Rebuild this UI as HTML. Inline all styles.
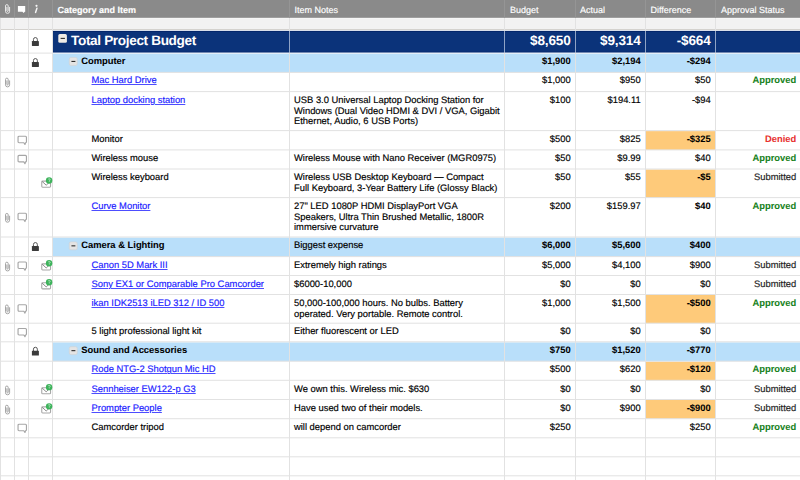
<!DOCTYPE html><html><head><meta charset="utf-8"><style>
*{margin:0;padding:0;box-sizing:border-box}
html,body{width:800px;height:480px;overflow:hidden;background:#fff}
body{position:relative;font-family:"Liberation Sans",sans-serif;font-size:9.4px;color:#000;text-rendering:geometricPrecision;-webkit-text-stroke:0.16px currentColor}
.a{position:absolute;white-space:nowrap;line-height:10.8px}
.r{text-align:right}
.b{font-weight:bold;-webkit-text-stroke-width:0.06px}
.lnk{color:#1c1cff;text-decoration:underline;text-decoration-thickness:0.9px;text-underline-offset:1.2px;text-decoration-color:#4d4dff}
.hd{color:#fff;-webkit-text-stroke:0.15px #fff}
svg{position:absolute;left:0;top:0}

</style></head><body>
<svg width="800" height="480" viewBox="0 0 800 480"><rect x="0" y="0" width="800" height="17.9" fill="#8a8a8a"/><rect x="0" y="17.9" width="800" height="11.3" fill="#f2f2f2"/><rect x="0" y="18.0" width="800" height="1.2" fill="#f6f6f6"/><rect x="52.5" y="31.0" width="747.5" height="21.6" fill="#0b337a"/><rect x="52.5" y="31.0" width="747.5" height="0.9" fill="#03256a"/><rect x="52.5" y="51.6" width="747.5" height="1.0" fill="#062a6e"/><rect x="52.5" y="53.8" width="747.5" height="18.6" fill="#b9dffa"/><rect x="645" y="131.1" width="70" height="18.8" fill="#feca7a"/><rect x="645" y="169.5" width="70" height="28.1" fill="#feca7a"/><rect x="52.5" y="237.6" width="747.5" height="19" fill="#b9dffa"/><rect x="645" y="295" width="70" height="28.2" fill="#feca7a"/><rect x="52.5" y="342.4" width="747.5" height="18.8" fill="#b9dffa"/><rect x="645" y="361.7" width="70" height="18.6" fill="#feca7a"/><rect x="645" y="400" width="70" height="18.7" fill="#feca7a"/><rect x="0" y="29.0" width="800" height="1" fill="#d4d2ce"/><rect x="52.5" y="30.0" width="747.5" height="1" fill="#d9dfea"/><rect x="0" y="52.6" width="52.5" height="1" fill="#e2e2e2"/><rect x="52.5" y="52.6" width="747.5" height="1" fill="#dbe7f3"/><rect x="0" y="71.9" width="800" height="1" fill="#e2e2e2"/><rect x="0" y="91.1" width="800" height="1" fill="#e2e2e2"/><rect x="0" y="130.1" width="800" height="1" fill="#e2e2e2"/><rect x="0" y="149.4" width="800" height="1" fill="#e2e2e2"/><rect x="0" y="168.5" width="800" height="1" fill="#e2e2e2"/><rect x="0" y="197.1" width="800" height="1" fill="#e2e2e2"/><rect x="0" y="236.5" width="800" height="1" fill="#e2e2e2"/><rect x="0" y="256.1" width="800" height="1" fill="#e2e2e2"/><rect x="0" y="275" width="800" height="1" fill="#e2e2e2"/><rect x="0" y="294" width="800" height="1" fill="#e2e2e2"/><rect x="0" y="322.7" width="800" height="1" fill="#e2e2e2"/><rect x="0" y="341.3" width="800" height="1" fill="#e2e2e2"/><rect x="0" y="360.7" width="800" height="1" fill="#e2e2e2"/><rect x="0" y="379.8" width="800" height="1" fill="#e2e2e2"/><rect x="0" y="399" width="800" height="1" fill="#e2e2e2"/><rect x="0" y="418.2" width="800" height="1" fill="#e2e2e2"/><rect x="0" y="437.3" width="800" height="1" fill="#e2e2e2"/><rect x="0" y="456.3" width="800" height="1" fill="#e2e2e2"/><rect x="0" y="475.3" width="800" height="1" fill="#e2e2e2"/><rect x="0" y="494.5" width="800" height="1" fill="#e2e2e2"/><rect x="0" y="17.9" width="1" height="470" fill="#e2e2e2"/><rect x="14" y="17.9" width="1" height="470" fill="#e2e2e2"/><rect x="14" y="0" width="1" height="17.9" fill="#959595"/><rect x="28" y="17.9" width="1" height="470" fill="#e2e2e2"/><rect x="28" y="0" width="1" height="17.9" fill="#959595"/><rect x="52" y="17.9" width="1" height="470" fill="#e2e2e2"/><rect x="52" y="0" width="1" height="17.9" fill="#959595"/><rect x="289" y="17.9" width="1" height="470" fill="#e2e2e2"/><rect x="289" y="0" width="1" height="17.9" fill="#959595"/><rect x="504" y="17.9" width="1" height="470" fill="#e2e2e2"/><rect x="504" y="0" width="1" height="17.9" fill="#959595"/><rect x="575" y="17.9" width="1" height="470" fill="#e2e2e2"/><rect x="575" y="0" width="1" height="17.9" fill="#959595"/><rect x="645" y="17.9" width="1" height="470" fill="#e2e2e2"/><rect x="645" y="0" width="1" height="17.9" fill="#959595"/><rect x="715" y="17.9" width="1" height="470" fill="#e2e2e2"/><rect x="715" y="0" width="1" height="17.9" fill="#959595"/><rect x="289" y="31" width="1" height="21.6" fill="#8fa3c6"/><rect x="504" y="31" width="1" height="21.6" fill="#8fa3c6"/><rect x="575" y="31" width="1" height="21.6" fill="#8fa3c6"/><rect x="645" y="31" width="1" height="21.6" fill="#8fa3c6"/><rect x="715" y="31" width="1" height="21.6" fill="#8fa3c6"/><g transform="translate(5,4)"><path d="M4.6 3.3 V7.3 A2.05 2.05 0 0 1 0.5 7.3 V1.95 A1.35 1.35 0 0 1 3.2 1.95 V6.8 A0.65 0.65 0 0 1 1.9 6.8 V3.3" fill="none" stroke="#ececec" stroke-width="0.95" stroke-linecap="round"/></g><circle cx="36.5" cy="5.8" r="1.1" fill="#f6f6f6"/><path d="M36.95 8.2 L35.55 12.4" stroke="#f6f6f6" stroke-width="1.45" stroke-linecap="round"/><path d="M17.9 5.9 H25.2 V11.7 H24.8 L23.6 13.0 L22.4 11.7 H17.9 Z" fill="#fff"/><rect x="58.3" y="34.1" width="8.6" height="8.6" rx="1.5" fill="#efece6"/><rect x="60.62" y="37.85" width="4.3" height="1.1" fill="#2e2e2e"/><g transform="translate(31.9,41)"><path d="M1.55 0.3 V-1.5 A1.95 1.95 0 0 1 5.45 -1.5 V0.3" fill="none" stroke="#555" stroke-width="1.0"/><rect x="0" y="0" width="7.0" height="4.9" rx="0.4" fill="#3b3b3b"/></g><rect x="69.3" y="57.5" width="7.9" height="7.9" rx="1.5" fill="#e4e4e4" stroke="#d2d2d2" stroke-width="0.6"/><rect x="71.43" y="60.9" width="3.95" height="1.1" fill="#2e2e2e"/><g transform="translate(31.9,62)"><path d="M1.55 0.3 V-1.5 A1.95 1.95 0 0 1 5.45 -1.5 V0.3" fill="none" stroke="#555" stroke-width="1.0"/><rect x="0" y="0" width="7.0" height="4.9" rx="0.4" fill="#3b3b3b"/></g><g transform="translate(5,77.55)"><path d="M4.6 3.3 V7.3 A2.05 2.05 0 0 1 0.5 7.3 V1.95 A1.35 1.35 0 0 1 3.2 1.95 V6.8 A0.65 0.65 0 0 1 1.9 6.8 V3.3" fill="none" stroke="#a0a0a0" stroke-width="0.95" stroke-linecap="round"/></g><g transform="translate(18.05,136.2)"><path d="M1 0 H7.4 A1 1 0 0 1 8.4 1 V5.5 A1 1 0 0 1 7.4 6.5 H7.6 L6.9 8.3 L5.8 6.5 H1 A1 1 0 0 1 0 5.5 V1 A1 1 0 0 1 1 0 Z" fill="#fff" stroke="#a6a6a6" stroke-width="1.15" stroke-linejoin="round"/></g><g transform="translate(18.05,155.4)"><path d="M1 0 H7.4 A1 1 0 0 1 8.4 1 V5.5 A1 1 0 0 1 7.4 6.5 H7.6 L6.9 8.3 L5.8 6.5 H1 A1 1 0 0 1 0 5.5 V1 A1 1 0 0 1 1 0 Z" fill="#fff" stroke="#a6a6a6" stroke-width="1.15" stroke-linejoin="round"/></g><g transform="translate(0,183.3)"><rect x="41.75" y="-2.2" width="8.8" height="6.1" rx="0.9" fill="#fff" stroke="#a8a8a8" stroke-width="1.1"/><path d="M42.1 -1.9 L46.2 1.9 L50.2 -1.9" fill="none" stroke="#8c8c8c" stroke-width="1.0"/><circle cx="49.1" cy="-2.75" r="3.2" fill="#3db35b"/><path d="M48.2 -4.1 Q49.2 -5.0 50.1 -4.1 Q50.4 -3.2 49.3 -2.5 V-1.5" fill="none" stroke="#cdebd4" stroke-width="0.75"/></g><g transform="translate(5,212.85)"><path d="M4.6 3.3 V7.3 A2.05 2.05 0 0 1 0.5 7.3 V1.95 A1.35 1.35 0 0 1 3.2 1.95 V6.8 A0.65 0.65 0 0 1 1.9 6.8 V3.3" fill="none" stroke="#a0a0a0" stroke-width="0.95" stroke-linecap="round"/></g><g transform="translate(18.05,213.25)"><path d="M1 0 H7.4 A1 1 0 0 1 8.4 1 V5.5 A1 1 0 0 1 7.4 6.5 H7.6 L6.9 8.3 L5.8 6.5 H1 A1 1 0 0 1 0 5.5 V1 A1 1 0 0 1 1 0 Z" fill="#fff" stroke="#a6a6a6" stroke-width="1.15" stroke-linejoin="round"/></g><rect x="69.3" y="241.9" width="7.9" height="7.9" rx="1.5" fill="#e4e4e4" stroke="#d2d2d2" stroke-width="0.6"/><rect x="71.43" y="245.3" width="3.95" height="1.1" fill="#2e2e2e"/><g transform="translate(31.9,246)"><path d="M1.55 0.3 V-1.5 A1.95 1.95 0 0 1 5.45 -1.5 V0.3" fill="none" stroke="#555" stroke-width="1.0"/><rect x="0" y="0" width="7.0" height="4.9" rx="0.4" fill="#3b3b3b"/></g><g transform="translate(5,261.6)"><path d="M4.6 3.3 V7.3 A2.05 2.05 0 0 1 0.5 7.3 V1.95 A1.35 1.35 0 0 1 3.2 1.95 V6.8 A0.65 0.65 0 0 1 1.9 6.8 V3.3" fill="none" stroke="#a0a0a0" stroke-width="0.95" stroke-linecap="round"/></g><g transform="translate(18.05,262)"><path d="M1 0 H7.4 A1 1 0 0 1 8.4 1 V5.5 A1 1 0 0 1 7.4 6.5 H7.6 L6.9 8.3 L5.8 6.5 H1 A1 1 0 0 1 0 5.5 V1 A1 1 0 0 1 1 0 Z" fill="#fff" stroke="#a6a6a6" stroke-width="1.15" stroke-linejoin="round"/></g><g transform="translate(0,266.05)"><rect x="41.75" y="-2.2" width="8.8" height="6.1" rx="0.9" fill="#fff" stroke="#a8a8a8" stroke-width="1.1"/><path d="M42.1 -1.9 L46.2 1.9 L50.2 -1.9" fill="none" stroke="#8c8c8c" stroke-width="1.0"/><circle cx="49.1" cy="-2.75" r="3.2" fill="#3db35b"/><path d="M48.2 -4.1 Q49.2 -5.0 50.1 -4.1 Q50.4 -3.2 49.3 -2.5 V-1.5" fill="none" stroke="#cdebd4" stroke-width="0.75"/></g><g transform="translate(0,285)"><rect x="41.75" y="-2.2" width="8.8" height="6.1" rx="0.9" fill="#fff" stroke="#a8a8a8" stroke-width="1.1"/><path d="M42.1 -1.9 L46.2 1.9 L50.2 -1.9" fill="none" stroke="#8c8c8c" stroke-width="1.0"/><circle cx="49.1" cy="-2.75" r="3.2" fill="#3db35b"/><path d="M48.2 -4.1 Q49.2 -5.0 50.1 -4.1 Q50.4 -3.2 49.3 -2.5 V-1.5" fill="none" stroke="#cdebd4" stroke-width="0.75"/></g><g transform="translate(5,304.4)"><path d="M4.6 3.3 V7.3 A2.05 2.05 0 0 1 0.5 7.3 V1.95 A1.35 1.35 0 0 1 3.2 1.95 V6.8 A0.65 0.65 0 0 1 1.9 6.8 V3.3" fill="none" stroke="#a0a0a0" stroke-width="0.95" stroke-linecap="round"/></g><g transform="translate(18.05,304.8)"><path d="M1 0 H7.4 A1 1 0 0 1 8.4 1 V5.5 A1 1 0 0 1 7.4 6.5 H7.6 L6.9 8.3 L5.8 6.5 H1 A1 1 0 0 1 0 5.5 V1 A1 1 0 0 1 1 0 Z" fill="#fff" stroke="#a6a6a6" stroke-width="1.15" stroke-linejoin="round"/></g><g transform="translate(18.05,328.45)"><path d="M1 0 H7.4 A1 1 0 0 1 8.4 1 V5.5 A1 1 0 0 1 7.4 6.5 H7.6 L6.9 8.3 L5.8 6.5 H1 A1 1 0 0 1 0 5.5 V1 A1 1 0 0 1 1 0 Z" fill="#fff" stroke="#a6a6a6" stroke-width="1.15" stroke-linejoin="round"/></g><rect x="69.3" y="346.7" width="7.9" height="7.9" rx="1.5" fill="#e4e4e4" stroke="#d2d2d2" stroke-width="0.6"/><rect x="71.43" y="350.1" width="3.95" height="1.1" fill="#2e2e2e"/><g transform="translate(31.9,350.7)"><path d="M1.55 0.3 V-1.5 A1.95 1.95 0 0 1 5.45 -1.5 V0.3" fill="none" stroke="#555" stroke-width="1.0"/><rect x="0" y="0" width="7.0" height="4.9" rx="0.4" fill="#3b3b3b"/></g><g transform="translate(5,385.45)"><path d="M4.6 3.3 V7.3 A2.05 2.05 0 0 1 0.5 7.3 V1.95 A1.35 1.35 0 0 1 3.2 1.95 V6.8 A0.65 0.65 0 0 1 1.9 6.8 V3.3" fill="none" stroke="#a0a0a0" stroke-width="0.95" stroke-linecap="round"/></g><g transform="translate(0,389.9)"><rect x="41.75" y="-2.2" width="8.8" height="6.1" rx="0.9" fill="#fff" stroke="#a8a8a8" stroke-width="1.1"/><path d="M42.1 -1.9 L46.2 1.9 L50.2 -1.9" fill="none" stroke="#8c8c8c" stroke-width="1.0"/><circle cx="49.1" cy="-2.75" r="3.2" fill="#3db35b"/><path d="M48.2 -4.1 Q49.2 -5.0 50.1 -4.1 Q50.4 -3.2 49.3 -2.5 V-1.5" fill="none" stroke="#cdebd4" stroke-width="0.75"/></g><g transform="translate(5,404.65)"><path d="M4.6 3.3 V7.3 A2.05 2.05 0 0 1 0.5 7.3 V1.95 A1.35 1.35 0 0 1 3.2 1.95 V6.8 A0.65 0.65 0 0 1 1.9 6.8 V3.3" fill="none" stroke="#a0a0a0" stroke-width="0.95" stroke-linecap="round"/></g><g transform="translate(0,409.1)"><rect x="41.75" y="-2.2" width="8.8" height="6.1" rx="0.9" fill="#fff" stroke="#a8a8a8" stroke-width="1.1"/><path d="M42.1 -1.9 L46.2 1.9 L50.2 -1.9" fill="none" stroke="#8c8c8c" stroke-width="1.0"/><circle cx="49.1" cy="-2.75" r="3.2" fill="#3db35b"/><path d="M48.2 -4.1 Q49.2 -5.0 50.1 -4.1 Q50.4 -3.2 49.3 -2.5 V-1.5" fill="none" stroke="#cdebd4" stroke-width="0.75"/></g><g transform="translate(18.05,424.2)"><path d="M1 0 H7.4 A1 1 0 0 1 8.4 1 V5.5 A1 1 0 0 1 7.4 6.5 H7.6 L6.9 8.3 L5.8 6.5 H1 A1 1 0 0 1 0 5.5 V1 A1 1 0 0 1 1 0 Z" fill="#fff" stroke="#a6a6a6" stroke-width="1.15" stroke-linejoin="round"/></g></svg>
<div class="a hd" style="left:57.5px;top:5.1px;font-size:9px;font-weight:bold">Category and Item</div>
<div class="a hd" style="left:294.5px;top:5.1px;font-size:9px;font-weight:normal">Item Notes</div>
<div class="a hd" style="left:510px;top:5.1px;font-size:9px;font-weight:normal">Budget</div>
<div class="a hd" style="left:580px;top:5.1px;font-size:9px;font-weight:normal">Actual</div>
<div class="a hd" style="left:650.5px;top:5.1px;font-size:9px;font-weight:normal">Difference</div>
<div class="a hd" style="left:721px;top:5.1px;font-size:9px;font-weight:normal">Approval Status</div>
<div class="a b" style="left:71px;top:33px;font-size:13.6px;line-height:16px;letter-spacing:-0.35px;color:#fff;-webkit-text-stroke:0">Total Project Budget</div>
<div class="a b r" style="right:229.5px;top:33px;font-size:13.6px;line-height:16px;letter-spacing:-0.2px;color:#fff;-webkit-text-stroke:0">$8,650</div>
<div class="a b r" style="right:159.5px;top:33px;font-size:13.6px;line-height:16px;letter-spacing:-0.2px;color:#fff;-webkit-text-stroke:0">$9,314</div>
<div class="a b r" style="right:89.5px;top:33px;font-size:13.6px;line-height:16px;letter-spacing:-0.2px;color:#fff;-webkit-text-stroke:0">-$664</div>
<div class="a b" style="left:81.2px;top:56.4px">Computer</div>
<div class="a r b " style="right:229.3px;top:56.4px">$1,900</div>
<div class="a r b " style="right:159.3px;top:56.4px">$2,194</div>
<div class="a r b " style="right:89.3px;top:56.4px">-$294</div>
<div class="a lnk" style="left:91.5px;top:75px">Mac Hard Drive</div>
<div class="a r " style="right:229.3px;top:75px">$1,000</div>
<div class="a r " style="right:159.3px;top:75px">$950</div>
<div class="a r " style="right:89.3px;top:75px">$50</div>
<div class="a r b " style="right:3.8px;top:75px;color:#17821c">Approved</div>
<div class="a lnk" style="left:91.5px;top:94.8px">Laptop docking station</div>
<div class="a" style="left:294px;top:94.8px">USB 3.0 Universal Laptop Docking Station for</div>
<div class="a" style="left:294px;top:105.6px">Windows (Dual Video HDMI &amp; DVI / VGA, Gigabit</div>
<div class="a" style="left:294px;top:116.4px">Ethernet, Audio, 6 USB Ports)</div>
<div class="a r " style="right:229.3px;top:94.8px">$100</div>
<div class="a r " style="right:159.3px;top:94.8px">$194.11</div>
<div class="a r " style="right:89.3px;top:94.8px">-$94</div>
<div class="a" style="left:91.5px;top:133.8px">Monitor</div>
<div class="a r " style="right:229.3px;top:133.8px">$500</div>
<div class="a r " style="right:159.3px;top:133.8px">$825</div>
<div class="a r b " style="right:89.3px;top:133.8px">-$325</div>
<div class="a r b " style="right:3.8px;top:133.8px;color:#e8302e">Denied</div>
<div class="a" style="left:91.5px;top:153.1px">Wireless mouse</div>
<div class="a" style="left:294px;top:153.1px">Wireless Mouse with Nano Receiver (MGR0975)</div>
<div class="a r " style="right:229.3px;top:153.1px">$50</div>
<div class="a r " style="right:159.3px;top:153.1px">$9.99</div>
<div class="a r " style="right:89.3px;top:153.1px">$40</div>
<div class="a r b " style="right:3.8px;top:153.1px;color:#17821c">Approved</div>
<div class="a" style="left:91.5px;top:172.2px">Wireless keyboard</div>
<div class="a" style="left:294px;top:172.2px">Wireless USB Desktop Keyboard — Compact</div>
<div class="a" style="left:294px;top:183px">Full Keyboard, 3-Year Battery Life (Glossy Black)</div>
<div class="a r " style="right:229.3px;top:172.2px">$50</div>
<div class="a r " style="right:159.3px;top:172.2px">$55</div>
<div class="a r b " style="right:89.3px;top:172.2px">-$5</div>
<div class="a r " style="right:3.8px;top:172.2px;color:#222">Submitted</div>
<div class="a lnk" style="left:91.5px;top:200.8px">Curve Monitor</div>
<div class="a" style="left:294px;top:200.8px">27" LED 1080P HDMI DisplayPort VGA</div>
<div class="a" style="left:294px;top:211.6px">Speakers, Ultra Thin Brushed Metallic, 1800R</div>
<div class="a" style="left:294px;top:222.4px">immersive curvature</div>
<div class="a r " style="right:229.3px;top:200.8px">$200</div>
<div class="a r " style="right:159.3px;top:200.8px">$159.97</div>
<div class="a r b " style="right:89.3px;top:200.8px">$40</div>
<div class="a r b " style="right:3.8px;top:200.8px;color:#17821c">Approved</div>
<div class="a b" style="left:81.2px;top:240.2px">Camera &amp; Lighting</div>
<div class="a" style="left:294px;top:240.2px">Biggest expense</div>
<div class="a r b " style="right:229.3px;top:240.2px">$6,000</div>
<div class="a r b " style="right:159.3px;top:240.2px">$5,600</div>
<div class="a r b " style="right:89.3px;top:240.2px">$400</div>
<div class="a lnk" style="left:91.5px;top:259.8px">Canon 5D Mark III</div>
<div class="a" style="left:294px;top:259.8px">Extremely high ratings</div>
<div class="a r " style="right:229.3px;top:259.8px">$5,000</div>
<div class="a r " style="right:159.3px;top:259.8px">$4,100</div>
<div class="a r " style="right:89.3px;top:259.8px">$900</div>
<div class="a r " style="right:3.8px;top:259.8px;color:#222">Submitted</div>
<div class="a lnk" style="left:91.5px;top:278.7px">Sony EX1 or Comparable Pro Camcorder</div>
<div class="a" style="left:294px;top:278.7px">$6000-10,000</div>
<div class="a r " style="right:229.3px;top:278.7px">$0</div>
<div class="a r " style="right:159.3px;top:278.7px">$0</div>
<div class="a r " style="right:89.3px;top:278.7px">$0</div>
<div class="a r " style="right:3.8px;top:278.7px;color:#222">Submitted</div>
<div class="a lnk" style="left:91.5px;top:297.7px">ikan IDK2513 iLED 312 / ID 500</div>
<div class="a" style="left:294px;top:297.7px">50,000-100,000 hours. No bulbs. Battery</div>
<div class="a" style="left:294px;top:308.5px">operated. Very portable. Remote control.</div>
<div class="a r " style="right:229.3px;top:297.7px">$1,000</div>
<div class="a r " style="right:159.3px;top:297.7px">$1,500</div>
<div class="a r b " style="right:89.3px;top:297.7px">-$500</div>
<div class="a r b " style="right:3.8px;top:297.7px;color:#17821c">Approved</div>
<div class="a" style="left:91.5px;top:326.4px">5 light professional light kit</div>
<div class="a" style="left:294px;top:326.4px">Either fluorescent or LED</div>
<div class="a r " style="right:229.3px;top:326.4px">$0</div>
<div class="a r " style="right:159.3px;top:326.4px">$0</div>
<div class="a r " style="right:89.3px;top:326.4px">$0</div>
<div class="a b" style="left:81.2px;top:345px">Sound and Accessories</div>
<div class="a r b " style="right:229.3px;top:345px">$750</div>
<div class="a r b " style="right:159.3px;top:345px">$1,520</div>
<div class="a r b " style="right:89.3px;top:345px">-$770</div>
<div class="a lnk" style="left:91.5px;top:364.4px">Rode NTG-2 Shotgun Mic HD</div>
<div class="a r " style="right:229.3px;top:364.4px">$500</div>
<div class="a r " style="right:159.3px;top:364.4px">$620</div>
<div class="a r b " style="right:89.3px;top:364.4px">-$120</div>
<div class="a r b " style="right:3.8px;top:364.4px;color:#17821c">Approved</div>
<div class="a lnk" style="left:91.5px;top:383.5px">Sennheiser EW122-p G3</div>
<div class="a" style="left:294px;top:383.5px">We own this. Wireless mic. $630</div>
<div class="a r " style="right:229.3px;top:383.5px">$0</div>
<div class="a r " style="right:159.3px;top:383.5px">$0</div>
<div class="a r " style="right:89.3px;top:383.5px">$0</div>
<div class="a r " style="right:3.8px;top:383.5px;color:#222">Submitted</div>
<div class="a lnk" style="left:91.5px;top:402.7px">Prompter People</div>
<div class="a" style="left:294px;top:402.7px">Have used two of their models.</div>
<div class="a r " style="right:229.3px;top:402.7px">$0</div>
<div class="a r " style="right:159.3px;top:402.7px">$900</div>
<div class="a r b " style="right:89.3px;top:402.7px">-$900</div>
<div class="a r " style="right:3.8px;top:402.7px;color:#222">Submitted</div>
<div class="a" style="left:91.5px;top:421.9px">Camcorder tripod</div>
<div class="a" style="left:294px;top:421.9px">will depend on camcorder</div>
<div class="a r " style="right:229.3px;top:421.9px">$250</div>
<div class="a r " style="right:89.3px;top:421.9px">$250</div>
<div class="a r b " style="right:3.8px;top:421.9px;color:#17821c">Approved</div>
</body></html>
